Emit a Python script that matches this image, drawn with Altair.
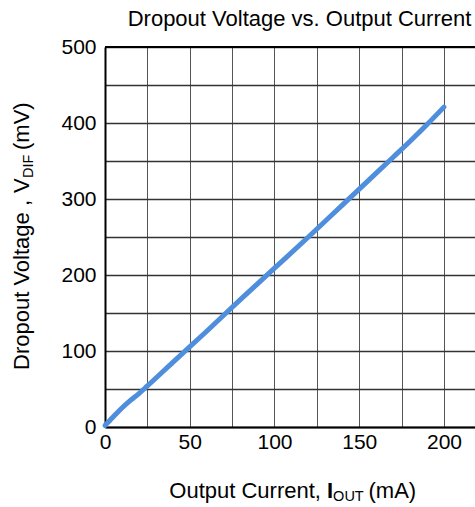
import altair as alt
import pandas as pd

# ---- data ----
current_ma = [0, 3, 6, 10, 15, 20, 25, 40, 60, 80, 100, 120, 140, 160, 170, 180, 190, 200]
dropout_mv = [2, 9, 16, 25, 35, 44, 54, 85, 126, 168, 209, 250, 292, 334, 355, 376, 398, 421]
x_ticks = [0, 25, 50, 75, 100, 125, 150, 175, 200]
y_ticks = [0, 50, 100, 150, 200, 250, 300, 350, 400, 450, 500]

title_text = "Dropout Voltage vs. Output Current"
FONT = "Liberation Sans"
W, H = 370, 380

df = pd.DataFrame({"I": current_ma, "V": dropout_mv})

base = alt.Chart(df)

line = base.mark_line(color="#4F8EDC", strokeWidth=5, strokeCap="round", strokeJoin="round",
                      interpolate="monotone").encode(
    x=alt.X("I:Q", scale=alt.Scale(domain=[0, 218.3], nice=False, zero=False),
            axis=alt.Axis(values=x_ticks, title=None, grid=True, gridColor="#555555", gridWidth=1,
                          ticks=False, domainColor="black", domainWidth=2,
                          labelExpr="datum.value % 50 === 0 ? datum.label : ''",
                          labelFont=FONT, labelFontSize=21, labelColor="black", labelPadding=4,
                          labelFlush=False, labelOverlap=False)),
    y=alt.Y("V:Q", scale=alt.Scale(domain=[0, 500], nice=False),
            axis=alt.Axis(values=y_ticks, title=None, grid=True, gridColor="#333333", gridWidth=1.3,
                          ticks=False, domainColor="black", domainWidth=2,
                          labelExpr="datum.value % 100 === 0 ? datum.label : ''",
                          labelFont=FONT, labelFontSize=21, labelColor="black", labelPadding=9,
                          labelFlush=False, labelOverlap=False)),
)

one = alt.Data(values=[{}])

top_rule = alt.Chart(one).mark_rule(color="black", strokeWidth=2).encode(
    x=alt.value(0), x2=alt.value(W), y=alt.value(0))


def txt(text, x, y, size=22, angle=0, weight="normal", align="left"):
    return alt.Chart(one).mark_text(
        text=text, font=FONT, fontSize=size, angle=angle, fontWeight=weight,
        align=align, baseline="alphabetic", color="black"
    ).encode(x=alt.value(x), y=alt.value(y))


title = txt(title_text, 194.5, -21, size=22, align="center")

# x-axis title with subscript
xt = [
    txt("Output Current,", 64.3, 451),
    txt("I", 222.0, 451, weight="bold"),
    txt("OUT", 228.1, 454, size=14.5),
    txt("(mA)", 263.5, 451),
]

# y-axis title (rotated) with subscript
yt = [
    txt("Dropout Voltage ,", -76, 323, angle=270),
    txt("V", -76, 146, angle=270),
    txt("DIF", -72, 131, size=14.5, angle=270),
    txt("(mV)", -76, 103, angle=270),
]

chart = alt.layer(line, top_rule, title, *xt, *yt).properties(
    width=W, height=H,
    autosize=alt.AutoSizeParams(type="none"),
    padding={"left": 105, "top": 47, "right": 0, "bottom": 80},
).configure_view(strokeWidth=0).configure(background="white")

chart.save("out.html", embed_options={"renderer": "svg", "actions": False})
